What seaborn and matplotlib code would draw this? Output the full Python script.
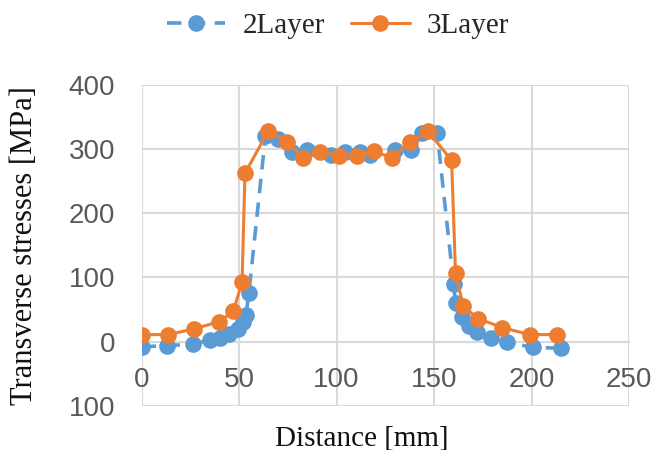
import numpy as np
import pandas as pd
import seaborn as sns
import matplotlib.pyplot as plt
from matplotlib.ticker import FixedLocator, FixedFormatter

# DATA
dist_2layer = [0, 13, 26.5, 35, 40, 45, 49.6, 52, 53.5, 55, 63.5, 70, 77, 85, 97, 104.5,
               112, 117, 130, 138, 144, 151.6, 160, 161, 164.4, 167.8, 172, 179, 187.5, 201, 215]
stress_2layer = [-8, -6, -4, 3, 5, 12, 20, 30, 41, 76, 320, 316, 295, 298, 290, 295,
                 295, 290, 298, 298, 324, 324, 90, 60, 38, 25, 15, 6, -1, -9, -10]

dist_3layer = [0, 13.5, 27, 39.5, 47, 51.5, 53, 65, 74.5, 83, 91.5, 101, 110.5, 119,
               128.5, 137.5, 147, 159, 161, 165, 172.5, 185, 199, 213]
stress_3layer = [11, 11, 20, 31, 47, 93, 262, 328, 311, 286, 295, 289, 289, 296,
                 286, 311, 327, 282, 107, 55, 36, 22, 11, 11]

x_ticks = [0, 50, 100, 150, 200, 250]
y_ticks = [-100, 0, 100, 200, 300, 400]
y_tick_labels = ['100', '0', '100', '200', '300', '400']

BLUE = '#5B9BD5'
ORANGE = '#ED7D31'
GRID = '#d9d9d9'

sns.set_style('white')
plt.rcParams['font.family'] = ['Liberation Serif', 'DejaVu Serif']

fig = plt.figure(figsize=(6.52, 4.5), dpi=100)
ax = fig.add_axes([0.2173, 0.0978, 0.7474, 0.7144])

df2 = pd.DataFrame({'x': dist_2layer, 'y': stress_2layer})
df3 = pd.DataFrame({'x': dist_3layer, 'y': stress_3layer})

sns.lineplot(data=df2, x='x', y='y', ax=ax, color=BLUE, marker='o', markersize=12,
             markeredgewidth=0, linewidth=2.6, label='2Layer', zorder=3)
sns.lineplot(data=df3, x='x', y='y', ax=ax, color=ORANGE, marker='o', markersize=12,
             markeredgewidth=0, linewidth=2.2, label='3Layer', zorder=4)
ax.lines[0].set_dashes((4, 2.6))

ax.set_xlim(0, 250)
ax.set_ylim(-100, 400)
ax.xaxis.set_major_locator(FixedLocator(x_ticks))
ax.yaxis.set_major_locator(FixedLocator(y_ticks))
ax.yaxis.set_major_formatter(FixedFormatter(y_tick_labels))
ax.grid(True, color=GRID, linewidth=1.5)
ax.set_axisbelow(True)

for s in ['top', 'right', 'left']:
    ax.spines[s].set_visible(False)
ax.spines['bottom'].set_position(('data', 0))
ax.spines['bottom'].set_color(GRID)
ax.spines['bottom'].set_linewidth(1.5)

ax.tick_params(axis='both', length=0, colors='#595959')
ax.tick_params(axis='x', pad=18)
ax.tick_params(axis='y', pad=19)
for lab in ax.get_xticklabels() + ax.get_yticklabels():
    lab.set_fontfamily('Liberation Sans')
    lab.set_fontsize(20)

ax.set_xlabel('Distance [mm]', fontsize=21, color='#111111', labelpad=0)
ax.xaxis.set_label_coords(0.452, -0.06)
ax.set_ylabel('Transverse stresses [MPa]', fontsize=22, color='#111111')
ax.yaxis.set_label_coords(-0.21, 0.5)

ax.legend(loc='center', bbox_to_anchor=(0.403, 1.182), ncol=2, frameon=False,
          fontsize=21, handlelength=2.0, columnspacing=0.9, handletextpad=0.6,
          borderpad=0, borderaxespad=0)

fig.savefig('out.png', dpi=100)
